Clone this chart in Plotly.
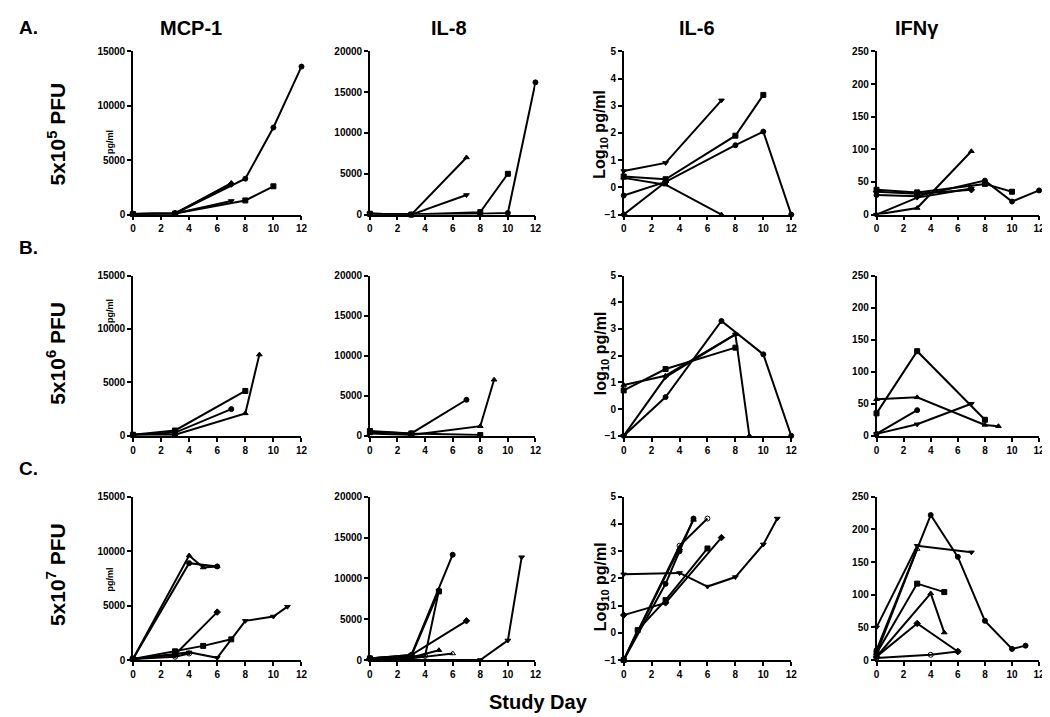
import plotly.graph_objects as go

# ---------------- data ----------------
DAYS_TICKS = [0, 2, 4, 6, 8, 10, 12]
COLUMNS = ["MCP-1", "IL-8", "IL-6", "IFNγ"]
ROW_LETTERS = ["A.", "B.", "C."]
ROW_DOSES = ["5x10<sup>5</sup> PFU", "5x10<sup>6</sup> PFU", "5x10<sup>7</sup> PFU"]

MCP1_TICKS = [0, 5000, 10000, 15000]
IL8_TICKS = [0, 5000, 10000, 15000, 20000]
IL6_TICKS = [-1, 0, 1, 2, 3, 4, 5]
IFN_TICKS = [0, 50, 100, 150, 200, 250]

# each series: (study days, values)
A_MCP1 = [
    ([0, 3, 8, 10, 12], [50, 100, 3300, 8000, 13600]),
    ([0, 3, 7], [50, 100, 2900]),
    ([0, 3, 8, 10], [50, 100, 1300, 2600]),
    ([0, 3, 7], [50, 100, 1250]),
    ([0, 3, 7], [50, 100, 2800]),
]
A_IL8 = [
    ([0, 3, 8, 10, 12], [100, 0, 100, 200, 16200]),
    ([0, 3, 7], [100, 0, 7000]),
    ([0, 3, 8, 10], [100, 0, 300, 5000]),
    ([0, 3, 7], [100, 0, 2400]),
]
A_IL6 = [
    ([0, 3, 8, 10, 12], [-0.3, 0.2, 1.55, 2.05, -1]),
    ([0, 3, 7], [0.35, 0.1, -1]),
    ([0, 3, 8, 10], [0.4, 0.3, 1.9, 3.4]),
    ([0, 3, 7], [0.6, 0.9, 3.2]),
    ([0, 3], [-1, 0.2]),
]
A_IFN = [
    ([0, 3, 8, 10, 12], [30, 28, 52, 20, 37]),
    ([0, 3, 7], [0, 10, 97]),
    ([0, 3, 8, 10], [38, 34, 47, 35]),
    ([0, 3, 7], [0, 26, 40]),
    ([0, 3, 7], [35, 32, 38]),
]
B_MCP1 = [
    ([0, 3, 7], [100, 300, 2500]),
    ([0, 3, 8, 9], [100, 100, 2100, 7600]),
    ([0, 3, 8], [100, 500, 4200]),
]
B_IL8 = [
    ([0, 3, 7], [500, 300, 4500]),
    ([0, 3, 8, 9], [300, 100, 1200, 7000]),
    ([0, 3, 8], [600, 300, 100]),
]
B_IL6 = [
    ([0, 3, 7, 10, 12], [-1, 0.45, 3.3, 2.05, -1]),
    ([0, 3, 8, 9], [0.9, 1.25, 2.8, -1]),
    ([0, 3, 8], [0.7, 1.5, 2.3]),
    ([0, 3, 8], [-1, 1.2, 2.8]),
]
B_IFN = [
    ([0, 3], [3, 40]),
    ([0, 3, 8, 9], [57, 60, 17, 15]),
    ([0, 3, 8], [35, 132, 25]),
    ([0, 3, 7], [3, 18, 50]),
]
C_MCP1 = [
    ([0, 4, 6], [100, 8900, 8600]),
    ([0, 4, 5, 6], [100, 9600, 8500, 8600]),
    ([0, 3, 5, 7], [100, 800, 1300, 1900]),
    ([0, 3, 4, 6, 8, 10, 11], [100, 600, 700, 200, 3600, 4000, 4900]),
    ([0, 3, 6], [100, 500, 4400]),
    ([0, 3, 4], [100, 300, 600]),
]
C_IL8 = [
    ([0, 3, 6], [200, 600, 12900]),
    ([0, 3, 5], [100, 300, 1200]),
    ([0, 3, 5], [200, 500, 8400]),
    ([0, 8, 10, 11], [0, 0, 2400, 12600]),
    ([0, 3, 7], [200, 600, 4800]),
    ([0, 4, 5], [200, 500, 8500]),
    ([0, 3, 6], [100, 200, 800]),
]
C_IL6 = [
    ([0, 3, 4, 5], [-1, 1.8, 3.0, 4.2]),
    ([0, 4, 5], [-1, 3.1, 4.15]),
    ([0, 1, 3, 6], [-1, 0.1, 1.2, 3.1]),
    ([0, 4, 6, 8, 10, 11], [2.15, 2.2, 1.7, 2.05, 3.25, 4.2]),
    ([0, 3, 7], [0.65, 1.1, 3.5]),
    ([0, 4, 6], [-1, 3.2, 4.2]),
]
C_IFN = [
    ([0, 4, 6, 8, 10, 11], [15, 222, 158, 60, 17, 22]),
    ([0, 4, 5], [5, 102, 42]),
    ([0, 3, 5], [10, 117, 104]),
    ([0, 3, 7], [50, 175, 165]),
    ([0, 3, 6], [5, 56, 13]),
    ([0, 4, 6], [3, 8, 13]),
    ([0, 3], [10, 170]),
]

PANELS = [
    [A_MCP1, A_IL8, A_IL6, A_IFN],
    [B_MCP1, B_IL8, B_IL6, B_IFN],
    [C_MCP1, C_IL8, C_IL6, C_IFN],
]
Y_TICKS = [MCP1_TICKS, IL8_TICKS, IL6_TICKS, IFN_TICKS]

# ---------------- styling / layout ----------------
W, H = 1050, 717
SYMBOLS = ["circle", "triangle-up", "square", "triangle-down", "diamond",
           "circle-open", "triangle-up-open"]
COL_PX = [(123, 293), (362, 529), (618, 787), (873, 1037)]
ROW_PX = [(38, 204), (266, 429), (491, 657)]
FONT = "Liberation Sans, Arial, sans-serif"

fig = go.Figure()
layout = {}
for r in range(3):
    for c in range(4):
        k = r * 4 + c + 1
        xs = "" if k == 1 else str(k)
        x0, x1 = COL_PX[c]
        y0, y1 = ROW_PX[r]
        yt = Y_TICKS[c]
        axis_common = dict(
            showline=True, linecolor="black", linewidth=1.5,
            ticks="outside", ticklen=4, tickwidth=1.5, tickcolor="black",
            showgrid=False, zeroline=False, tickformat="d",
            tickfont=dict(family=FONT, size=10, color="black", weight="bold"),
        )
        layout["xaxis" + xs] = dict(
            domain=[x0 / W, x1 / W], anchor="y" + xs,
            range=[0, 12], tickvals=DAYS_TICKS, **axis_common)
        layout["yaxis" + xs] = dict(
            domain=[1 - y1 / H, 1 - y0 / H], anchor="x" + xs,
            range=[yt[0], yt[-1]], tickvals=yt, **axis_common)
        for i, (days, vals) in enumerate(PANELS[r][c]):
            fig.add_trace(go.Scatter(
                x=days, y=vals, xaxis="x" + xs, yaxis="y" + xs,
                mode="lines+markers", cliponaxis=False, showlegend=False,
                line=dict(color="black", width=2),
                marker=dict(symbol=SYMBOLS[i % len(SYMBOLS)], size=5,
                            color="black", line=dict(color="black", width=1)),
            ))

ann = []
def text(x, y, s, size, angle=0):
    ann.append(dict(x=x / W, y=1 - y / H, xref="paper", yref="paper", text=s,
                    showarrow=False, textangle=angle,
                    font=dict(family=FONT, size=size, color="black", weight="bold"),
                    xanchor="center", yanchor="middle"))

title_x = [182, 442, 692, 914]
for c, t in enumerate(COLUMNS):
    text(title_x[c], 14, t, 20)
letter_y = [14, 237, 462]
dose_y = [122, 345, 570]
for r in range(3):
    text(18, letter_y[r], ROW_LETTERS[r], 19)
    text(46, dose_y[r], ROW_DOSES[r], 21, -90)
pg_y = [130, 302, 575]
for r in range(3):
    text(100, pg_y[r], "pg/ml", 9, -90)
log_labels = ["Log<sub>10</sub> pg/ml", "log<sub>10</sub> pg/ml", "Log<sub>10</sub> pg/ml"]
log_y = [122, 345, 582]
for r in range(3):
    text(595, log_y[r], log_labels[r], 16, -90)
text(532, 700, "Study Day", 20)

layout["annotations"] = ann
fig.update_layout(width=W, height=H, margin=dict(l=0, r=0, t=0, b=0),
                  plot_bgcolor="white", paper_bgcolor="white", **layout)
fig.write_html("out.html")
